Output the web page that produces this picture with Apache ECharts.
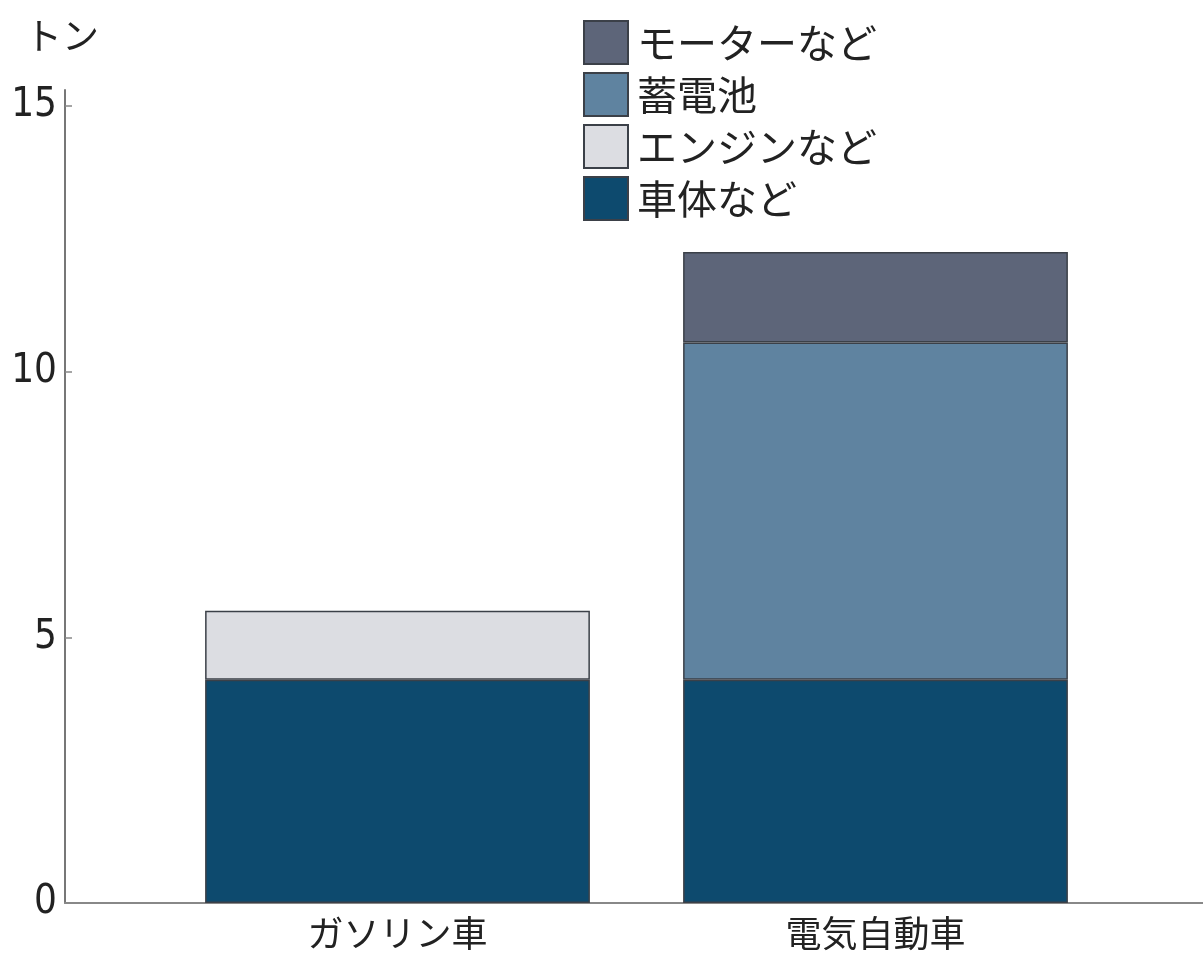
<!DOCTYPE html>
<html><head><meta charset="utf-8">
<script src="https://cdn.jsdelivr.net/npm/echarts@6/dist/echarts.min.js"></script>
<style>html,body{margin:0;padding:0;background:#fff}#c{width:1203px;height:959px}</style>
</head><body><div id="c"></div>
<script>
const categories = ['ガソリン車', '電気自動車'];
const bodyVals = [4.2, 4.2];
const engineVals = [1.3, null];
const batteryVals = [null, 6.35];
const motorVals = [null, 1.7];
const yTicks = [0, 5, 10, 15];
const unitLabel = 'トン';

const jp = '"Noto Sans CJK JP", "Noto Sans", sans-serif';
const num = '"Liberation Sans Narrow", "DejaVu Sans Condensed", "Noto Sans CJK JP", sans-serif';
const border = { borderColor: '#3b4048', borderWidth: 1.5 };

const chart = echarts.init(document.getElementById('c'));
chart.setOption({
  animation: false,
  backgroundColor: '#fff',
  title: { text: unitLabel, left: 20, top: 12, textStyle: { fontFamily: jp, fontSize: 37, fontWeight: 'normal', color: '#222' } },
  legend: {
    orient: 'vertical', left: 578, top: 15, itemWidth: 44, itemHeight: 43, itemGap: 7, icon: 'rect',
    textStyle: { fontFamily: jp, fontSize: 40, color: '#222', padding: [0, 0, 0, 4] },
    data: ['モーターなど', '蓄電池', 'エンジンなど', '車体など']
  },
  grid: [
    { left: 65, right: 0, top: 90, bottom: 56 },
    { left: 158.5, right: 88.5, top: 90, bottom: 56 }
  ],
  xAxis: [
    { type: 'value', gridIndex: 0, min: 0, max: 1, axisLine: { show: true, lineStyle: { color: '#888', width: 2 } }, axisTick: { show: false }, axisLabel: { show: false }, splitLine: { show: false } },
    { type: 'category', gridIndex: 1, data: categories, axisLine: { show: false }, axisTick: { show: false },
      axisLabel: { fontFamily: jp, fontSize: 36, color: '#222', margin: 12 } }
  ],
  yAxis: [
    { type: 'value', gridIndex: 0, min: 0, max: 15.3,
      axisLine: { show: true, lineStyle: { color: '#777', width: 2 } },
      axisTick: { show: true, inside: true, length: 7, lineStyle: { color: '#888', width: 1.5 }, customValues: [5, 10, 15] },
      axisLabel: { fontFamily: num, fontSize: 40, fontWeight: 300, color: '#222', margin: 8, customValues: yTicks },
      splitLine: { show: false } },
    { type: 'value', gridIndex: 1, min: 0, max: 15.3, show: false, splitLine: { show: false } }
  ],
  series: [
    { name: '車体など', type: 'bar', stack: 't', xAxisIndex: 1, yAxisIndex: 1, barCategoryGap: '19.5%', data: bodyVals, itemStyle: Object.assign({ color: '#0d4a6e' }, border) },
    { name: 'エンジンなど', type: 'bar', stack: 't', xAxisIndex: 1, yAxisIndex: 1, data: engineVals, itemStyle: Object.assign({ color: '#dcdde2' }, border) },
    { name: '蓄電池', type: 'bar', stack: 't', xAxisIndex: 1, yAxisIndex: 1, data: batteryVals, itemStyle: Object.assign({ color: '#5f83a0' }, border) },
    { name: 'モーターなど', type: 'bar', stack: 't', xAxisIndex: 1, yAxisIndex: 1, data: motorVals, itemStyle: Object.assign({ color: '#5d6579' }, border) }
  ]
});
</script></body></html>
